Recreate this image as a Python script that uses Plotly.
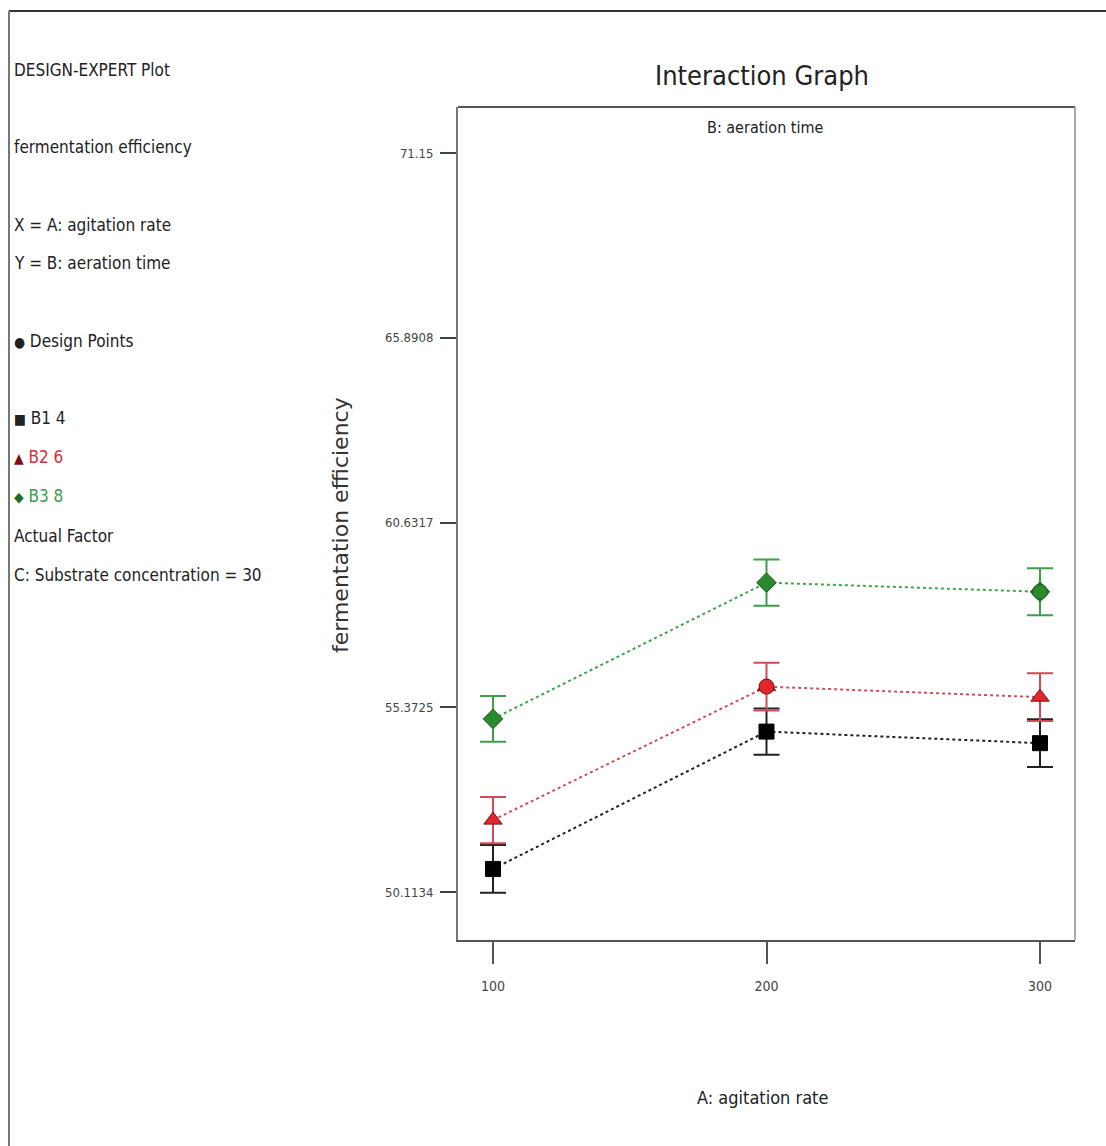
import plotly.graph_objects as go

# ---------------- data ----------------
agitation_rate = [100, 200, 300]
b1_values = [50.77, 54.68, 54.35]   # B1 4
b2_values = [52.16, 55.96, 55.66]   # B2 6
b3_values = [55.04, 58.92, 58.66]   # B3 8
b1_err = [0.68, 0.66, 0.68]
b2_err = [0.66, 0.68, 0.68]
b3_err = [0.65, 0.66, 0.67]
design_x = [200, 300]
design_y = [55.96, 58.66]
y_tickvals = [50.1134, 55.3725, 60.6317, 65.8908, 71.15]
y_ticktext = ["50.1134", "55.3725", "60.6317", "65.8908", "71.15"]
x_tickvals = [100, 200, 300]
x_ticktext = ["100", "200", "300"]

NARROW = "Liberation Sans Narrow, Arial Narrow, DejaVu Sans Condensed, sans-serif"

W, H = 1106, 1146
PL, PR, PT, PB = 458, 1075, 107, 940


def px(x):
    return (x - PL) / (PR - PL)


def py(y):
    return (PB - y) / (PB - PT)


fig = go.Figure()

series = [
    ("B1 4", b1_values, b1_err, "square", "#000000", "#000000", "#222222", "#222222", 15),
    ("B2 6", b2_values, b2_err, "triangle-up", "#e3262c", "#7a1010", "#d04a58", "#d0505e", 16),
    ("B3 8", b3_values, b3_err, "diamond", "#2a8a2e", "#1d5e20", "#3f9f48", "#3fa54a", 15),
]
for name, vals, err, sym, fill, outline, errc, linec, size in series:
    fig.add_trace(go.Scatter(
        x=agitation_rate, y=vals, mode="lines+markers", name=name,
        line=dict(color=linec, width=2, dash="dot"),
        marker=dict(symbol=sym, size=size, color=fill, line=dict(color=outline, width=1)),
        error_y=dict(type="data", array=err, visible=True, color=errc, thickness=2, width=13),
        showlegend=False,
    ))

fig.add_trace(go.Scatter(
    x=design_x, y=design_y, mode="markers", name="Design Points",
    marker=dict(symbol="circle", size=15, color=["#e3262c", "#2a8a2e"],
                line=dict(color=["#7a1010", "#1d5e20"], width=1)),
    showlegend=False,
))

annotations = []


def ann(text, x, y, size, color="#222222", font=NARROW, xanchor="left", angle=0):
    annotations.append(dict(
        text=text, x=px(x), y=py(y), xref="paper", yref="paper",
        xanchor=xanchor, yanchor="middle", showarrow=False, textangle=angle,
        font=dict(family=font, size=size, color=color),
    ))


ann("Interaction Graph", 762, 75, 27, xanchor="center")
ann("B: aeration time", 765, 127, 16, xanchor="center")
ann("A: agitation rate", 762, 1097, 18, xanchor="center")
ann("fermentation efficiency", 340, 525, 22, color="#333333", font="DejaVu Sans, sans-serif",
    xanchor="center", angle=-90)

left_x = 12
LS = 17
ann("DESIGN-EXPERT Plot", left_x, 70, LS)
ann("fermentation efficiency", left_x, 147, LS)
ann("X = A: agitation rate", left_x, 225, LS)
ann("Y = B: aeration time", left_x, 263, LS)
ann("<span style='font-size:14px'>●</span> Design Points", left_x, 341, LS)
ann("<span style='font-size:14px'>■</span> B1 4", left_x, 418, LS)
ann("<span style='color:#7a1010;font-size:14px'>▲</span> B2 6", left_x, 457, LS, color="#d0303c")
ann("<span style='color:#1d6e22;font-size:14px'>◆</span> B3 8", left_x, 496, LS, color="#3c9c4c")
ann("Actual Factor", left_x, 536, LS)
ann("C: Substrate concentration = 30", left_x, 575, LS)

shapes = [
    dict(type="line", xref="paper", yref="paper", x0=0, x1=1, y0=1, y1=1,
         line=dict(color="#555555", width=2)),
    dict(type="line", xref="paper", yref="paper", x0=1, x1=1, y0=0, y1=1,
         line=dict(color="#aaaaaa", width=2)),
    dict(type="line", xref="paper", yref="paper", x0=px(9), x1=px(W), y0=py(11), y1=py(11),
         line=dict(color="#333333", width=2)),
    dict(type="line", xref="paper", yref="paper", x0=px(9), x1=px(9), y0=py(11), y1=py(H),
         line=dict(color="#777777", width=2)),
]

fig.update_layout(
    width=W, height=H,
    margin=dict(l=PL, r=W - PR, t=PT, b=H - PB),
    paper_bgcolor="white", plot_bgcolor="white",
    annotations=annotations, shapes=shapes,
    xaxis=dict(range=[87.2, 312.8], tickvals=x_tickvals, ticktext=x_ticktext,
               ticks="outside", ticklen=22, tickwidth=1.5, tickcolor="#555555",
               showline=True, linecolor="#555555", linewidth=2, showgrid=False, zeroline=False,
               tickfont=dict(family=NARROW, size=14, color="#444444"), ticklabelstandoff=10),
    yaxis=dict(range=[48.747, 72.46], tickvals=y_tickvals, ticktext=y_ticktext,
               ticks="outside", ticklen=16, tickwidth=2, tickcolor="#444444",
               showline=True, linecolor="#777777", linewidth=2, showgrid=False, zeroline=False,
               tickfont=dict(family=NARROW, size=13, color="#444444"), ticklabelstandoff=4),
)

fig.write_html("out.html")
